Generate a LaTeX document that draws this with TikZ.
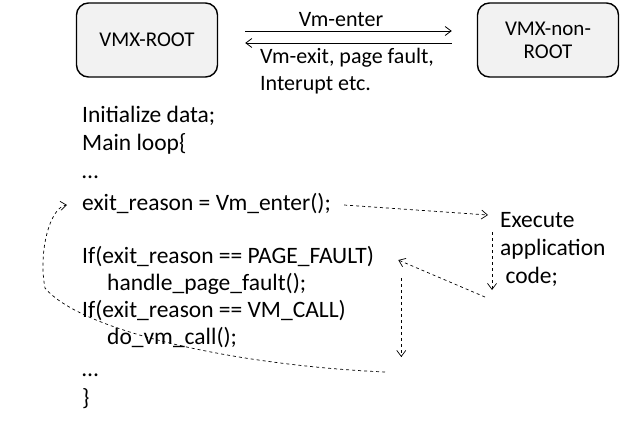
\documentclass[tikz,border=0pt]{standalone}
\usepackage{fontspec}
\setmainfont{Carlito}
\usepackage{tikz}
\usetikzlibrary{arrows.meta, positioning}

\begin{document}
\begin{tikzpicture}[
  x=1pt, y=-1pt,
  >={Straight Barb[length=6pt, width=9pt]},
  modebox/.style={draw, line width=1.4pt, rounded corners=12pt, fill=black!5,
    minimum width=141pt, minimum height=74pt, align=center,
    font=\fontsize{21}{23}\selectfont},
  lbl/.style={inner sep=0pt, align=left, font=\fontsize{22}{27}\selectfont},
  codeline/.style={anchor=west, inner sep=0pt, text height=16pt, text depth=5pt,
    font=\fontsize{23.5}{28}\selectfont},
  flow/.style={->, dashed, line width=0.7pt},
  mode/.style={->, line width=0.8pt}
]
\useasboundingbox (0,0) rectangle (623,429);

% Top: the two modes
\node[modebox] (root) at (147,40) {VMX-ROOT};
\node[modebox] (guest) at (548,40) {VMX-non-\\ROOT};

\draw[mode, shorten <=27pt, shorten >=25pt] ([yshift=9pt]root.east) -- ([yshift=9pt]guest.west);
\draw[mode, shorten <=25pt, shorten >=27pt] ([yshift=-3pt]guest.west) -- ([yshift=-3pt]root.east);
\node[lbl] (enterlbl) at (341,20) {Vm-enter};
\node[lbl, anchor=north west] (exitlbl) at (260,48) {Vm-exit, page fault,\\Interupt etc.};

% Left: the loop
\node[codeline] (init) at (82,117) {Initialize data;};
\node[codeline] (mainl) at (82,145) {Main loop\{};
\node[codeline] (dotsa) at (82,173) {…};
\node[codeline] (enter) at (82,205) {exit\_reason = Vm\_enter();};
\node[codeline] (pf) at (82,258) {If(exit\_reason == PAGE\_FAULT)};
\node[codeline] (hpf) at (107,285) {handle\_page\_fault();};
\node[codeline] (vmc) at (82,312) {If(exit\_reason == VM\_CALL)};
\node[codeline] (dovm) at (107,339) {do\_vm\_call();};
\node[codeline] (dotsb) at (82,371) {…};
\node[codeline] (close) at (82,400) {\}};

% Right: guest code
\node[codeline] (exec) at (500,222) {Execute};
\node[codeline] (app) at (500,250) {application};
\node[codeline] (code) at (500,278) {\ code;};

% control flow
\draw[flow] ([xshift=13pt]enter.east) -- ([xshift=-12pt,yshift=7pt]exec.west);
\draw[flow] ([xshift=-8pt,yshift=-10pt]exec.west) -- ([xshift=-8pt,yshift=-12pt]code.west);
\draw[flow] ([xshift=-15pt,yshift=-19pt]code.west) -- ([xshift=24pt,yshift=-2pt]pf.east);
\draw[flow] ([xshift=27pt,yshift=-20pt]pf.east) -- ([xshift=27pt,yshift=-99pt]pf.east);
\coordinate (back) at (385,372);
\draw[flow] (back) .. controls (230,365) and (80,330) .. (45,288)
  .. controls (38,252) and (50,207) .. ([xshift=-15pt]enter.west);

\end{tikzpicture}
\end{document}
